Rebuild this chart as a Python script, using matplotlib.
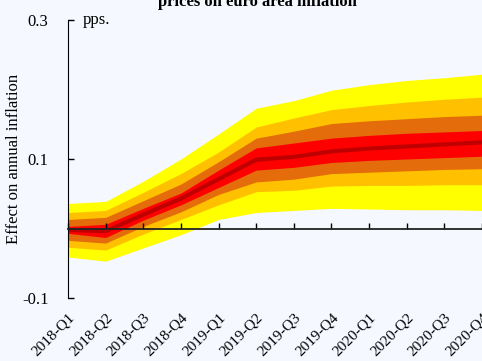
import numpy as np
import matplotlib
matplotlib.use("Agg")
import matplotlib.pyplot as plt

quarters = ['2018-Q1', '2018-Q2', '2018-Q3', '2018-Q4',
            '2019-Q1', '2019-Q2', '2019-Q3', '2019-Q4',
            '2020-Q1', '2020-Q2', '2020-Q3', '2020-Q4']

# fan chart bands (outer to inner)
yellow_hi = [0.036, 0.039, 0.068, 0.100, 0.136, 0.173, 0.184, 0.199, 0.207, 0.213, 0.217, 0.222]
orange_hi = [0.023, 0.026, 0.052, 0.079, 0.110, 0.146, 0.159, 0.171, 0.177, 0.182, 0.186, 0.189]
dkor_hi   = [0.013, 0.016, 0.040, 0.064, 0.096, 0.130, 0.140, 0.151, 0.155, 0.158, 0.161, 0.163]
red_hi    = [0.003, 0.006, 0.029, 0.051, 0.084, 0.116, 0.123, 0.130, 0.134, 0.137, 0.139, 0.141]
median    = [-0.002, -0.004, 0.020, 0.043, 0.071, 0.099, 0.103, 0.111, 0.115, 0.118, 0.121, 0.124]
red_lo    = [-0.007, -0.013, 0.012, 0.034, 0.059, 0.084, 0.088, 0.095, 0.098, 0.100, 0.102, 0.104]
dkor_lo   = [-0.017, -0.021, 0.003, 0.024, 0.049, 0.067, 0.071, 0.079, 0.081, 0.083, 0.085, 0.086]
orange_lo = [-0.027, -0.031, -0.008, 0.013, 0.034, 0.053, 0.055, 0.061, 0.062, 0.062, 0.063, 0.063]
yellow_lo = [-0.041, -0.047, -0.028, -0.009, 0.013, 0.023, 0.026, 0.029, 0.028, 0.027, 0.027, 0.026]

bg = '#F5F9FF'
plt.rcParams['font.family'] = ['Liberation Serif', 'DejaVu Serif']

fig = plt.figure(figsize=(4.82, 3.61), dpi=100, facecolor=bg)
ax = fig.add_axes([68 / 482, 63 / 361, 414 / 482, 278 / 361], facecolor=bg)

x = np.arange(len(quarters))
ax.fill_between(x, yellow_lo, yellow_hi, color='#FFFF00', lw=0)
ax.fill_between(x, orange_lo, orange_hi, color='#FFC000', lw=0)
ax.fill_between(x, dkor_lo, dkor_hi, color='#E46C0A', lw=0)
ax.fill_between(x, red_lo, red_hi, color='#FF0000', lw=0)
ax.plot(x, median, color='#C00000', lw=3)

ax.set_xlim(0, 11)
ax.set_ylim(-0.1, 0.3)

for s in ['top', 'right']:
    ax.spines[s].set_visible(False)
ax.spines['bottom'].set_position(('data', 0))
ax.spines['bottom'].set_color('#222222')
ax.spines['bottom'].set_linewidth(1.3)
ax.spines['bottom'].set_zorder(5)
ax.set_xticks(x)
ax.tick_params(axis='x', direction='in', length=4, width=1, labelbottom=False)

ax.set_yticks([-0.1, 0.1, 0.3])
ax.set_yticklabels(['-0.1', '0.1', '0.3'])
ax.tick_params(axis='y', direction='in', length=4, width=1, labelsize=12, pad=14)

sec = ax.secondary_xaxis(0)
sec.set_xticks(x)
sec.set_xticklabels(quarters, rotation=45, ha='right', va='top',
                    rotation_mode='anchor', fontsize=11)
sec.tick_params(length=0, pad=9)
sec.spines['bottom'].set_visible(False)

ax.set_ylabel('Effect on annual inflation', fontsize=12)
ax.yaxis.set_label_coords(-46 / 414, 0.5)
ax.text(0.4, 0.3, 'pps.', fontsize=12, va='center', ha='left')

fig.text(257 / 482, 1 - 6 / 361, 'prices on euro area inflation',
         fontsize=12, fontweight='bold', ha='center', va='baseline')

fig.savefig('out.png', dpi=100, facecolor=bg)
